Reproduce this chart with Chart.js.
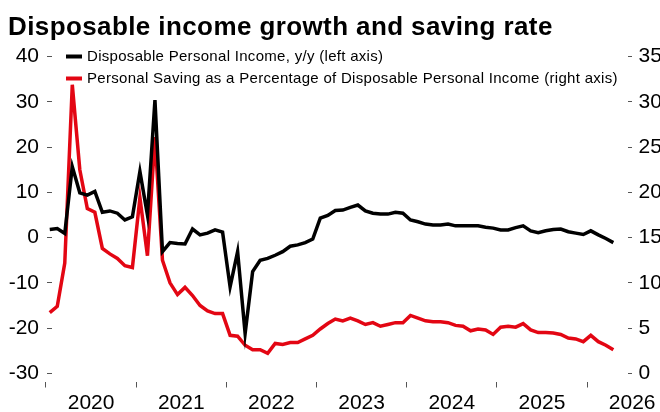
<!DOCTYPE html>
<html>
<head>
<meta charset="utf-8">
<script src="https://cdn.jsdelivr.net/npm/chart.js@4.4.0/dist/chart.umd.min.js"></script>
<style>
  html, body { margin: 0; padding: 0; background: #fff; }
</style>
</head>
<body>
<canvas id="chart" width="660" height="412"></canvas>
<script>
// Monthly data, Jan 2020 .. Apr 2026
const years = ['2020', '2021', '2022', '2023', '2024', '2025', '2026'];

// Disposable Personal Income, y/y % (left axis)
const incomeGrowth = [
  1.8, 2.0, 0.9, 15.7, 9.9, 9.4, 10.2, 5.6, 5.9, 5.4, 3.9, 4.6,
  14.6, 5.0, 30.4, -3.1, -1.1, -1.3, -1.4, 1.9, 0.6, 1.0, 1.7, 1.2,
  -10.9, -3.1, -21.2, -7.5, -5.0, -4.6, -3.9, -3.1, -1.9, -1.6, -1.1, -0.3,
  4.3, 4.9, 6.0, 6.1, 6.7, 7.2, 5.9, 5.4, 5.2, 5.2, 5.6, 5.4,
  3.9, 3.5, 3.0, 2.8, 2.8, 3.0, 2.6, 2.6, 2.6, 2.6, 2.3, 2.1,
  1.7, 1.7, 2.2, 2.6, 1.5, 1.1, 1.5, 1.8, 1.9, 1.3, 1.0, 0.7,
  1.5, 0.6, -0.2, -1.1
];

// Personal saving rate, % of disposable income (right axis)
const savingRate = [
  6.7, 7.4, 12.2, 31.9, 22.5, 18.2, 17.8, 13.8, 13.2, 12.7, 11.9, 11.7,
  19.4, 13.0, 26.1, 12.5, 10.0, 8.7, 9.5, 8.6, 7.5, 6.9, 6.6, 6.6,
  4.2, 4.1, 3.1, 2.6, 2.6, 2.2, 3.3, 3.2, 3.4, 3.4, 3.8, 4.2,
  4.9, 5.5, 6.0, 5.8, 6.1, 5.8, 5.4, 5.6, 5.2, 5.4, 5.6, 5.6,
  6.4, 6.1, 5.8, 5.7, 5.7, 5.6, 5.3, 5.2, 4.7, 4.9, 4.8, 4.3,
  5.1, 5.2, 5.1, 5.5, 4.8, 4.5, 4.5, 4.45, 4.3, 3.9, 3.8, 3.5,
  4.2, 3.5, 3.1, 2.6
];

const leftTicks = [-30, -20, -10, 0, 10, 20, 30, 40];
const rightTicks = [0, 5, 10, 15, 20, 25, 30, 35];

const FONT = "'Liberation Sans', Arial, sans-serif";
const TITLE = 'Disposable income growth and saving rate';

// x is months since Jan 2020, points sit mid-month
const toPoints = arr => arr.map((v, i) => ({ x: i + 0.5, y: v }));

// ticks every half year: year boundaries carry the tick mark, mid-year the label
const xTickValues = [];
for (let m = 0; m <= years.length * 12; m += 6) xTickValues.push(m);

const legendItems = [
  { text: 'Disposable Personal Income, y/y (left axis)', color: '#000000' },
  { text: 'Personal Saving as a Percentage of Disposable Personal Income (right axis)', color: '#e30613' }
];

// title and legend drawn on top, legend sits over the plot area like the original
const headerPlugin = {
  id: 'header',
  afterDraw(chart) {
    const ctx = chart.ctx;
    ctx.save();
    ctx.fillStyle = '#000';
    ctx.textBaseline = 'alphabetic';
    ctx.letterSpacing = '0.4px';
    ctx.font = 'bold 26px ' + FONT;
    ctx.fillText(TITLE, 8, 34.5);

    ctx.letterSpacing = '0.3px';
    ctx.font = '15px ' + FONT;
    legendItems.forEach((item, i) => {
      const y = 56.5 + i * 22;
      ctx.strokeStyle = item.color;
      ctx.lineWidth = 4;
      ctx.beginPath();
      ctx.moveTo(66, y);
      ctx.lineTo(82, y);
      ctx.stroke();
      ctx.fillText(item.text, 87, y + 4);
    });
    ctx.restore();
  }
};

const tickFont = { family: FONT, size: 21 };

new Chart(document.getElementById('chart'), {
  type: 'line',
  data: {
    datasets: [
      {
        label: legendItems[0].text,
        data: toPoints(incomeGrowth),
        borderColor: '#000000',
        borderWidth: 3.5,
        pointRadius: 0,
        tension: 0,
        clip: false,
        yAxisID: 'y'
      },
      {
        label: legendItems[1].text,
        data: toPoints(savingRate),
        borderColor: '#e30613',
        borderWidth: 3.5,
        pointRadius: 0,
        tension: 0,
        clip: false,
        yAxisID: 'y1'
      }
    ]
  },
  options: {
    responsive: false,
    animation: false,
    layout: { padding: { left: 8, right: 0, top: 56.7, bottom: 0 } },
    plugins: {
      legend: { display: false },
      tooltip: { enabled: false },
      title: { display: false }
    },
    scales: {
      x: {
        type: 'linear',
        min: 0.8,
        max: 77.45,
        afterBuildTicks: s => { s.ticks = xTickValues.map(v => ({ value: v })); },
        afterFit: s => { s.height = 30.5; s.paddingLeft = 0; s.paddingRight = 0; },
        border: { display: false },
        grid: {
          drawOnChartArea: false,
          tickLength: 6,
          lineWidth: 1,
          color: c => (c.tick && c.tick.value % 12 === 0) ? '#555' : 'rgba(0,0,0,0)'
        },
        ticks: {
          autoSkip: false,
          maxRotation: 0,
          padding: 3,
          color: '#000',
          font: tickFont,
          callback: v => (v % 12 === 6 ? years[(v - 6) / 12] : '')
        }
      },
      y: {
        position: 'left',
        min: -31.81,
        max: 40,
        afterBuildTicks: s => { s.ticks = leftTicks.map(v => ({ value: v })); },
        afterFit: s => { s.width = 44; },
        border: { display: false },
        grid: { drawOnChartArea: false, tickLength: 5, lineWidth: 1, color: '#555' },
        ticks: { padding: 8, color: '#000', font: tickFont }
      },
      y1: {
        position: 'right',
        min: -0.905,
        max: 35,
        afterBuildTicks: s => { s.ticks = rightTicks.map(v => ({ value: v })); },
        afterFit: s => { s.width = 32; },
        border: { display: false },
        grid: { drawOnChartArea: false, tickLength: 4, lineWidth: 1, color: '#555' },
        ticks: { padding: 6.5, color: '#000', font: tickFont }
      }
    }
  },
  plugins: [headerPlugin]
});
</script>
</body>
</html>
